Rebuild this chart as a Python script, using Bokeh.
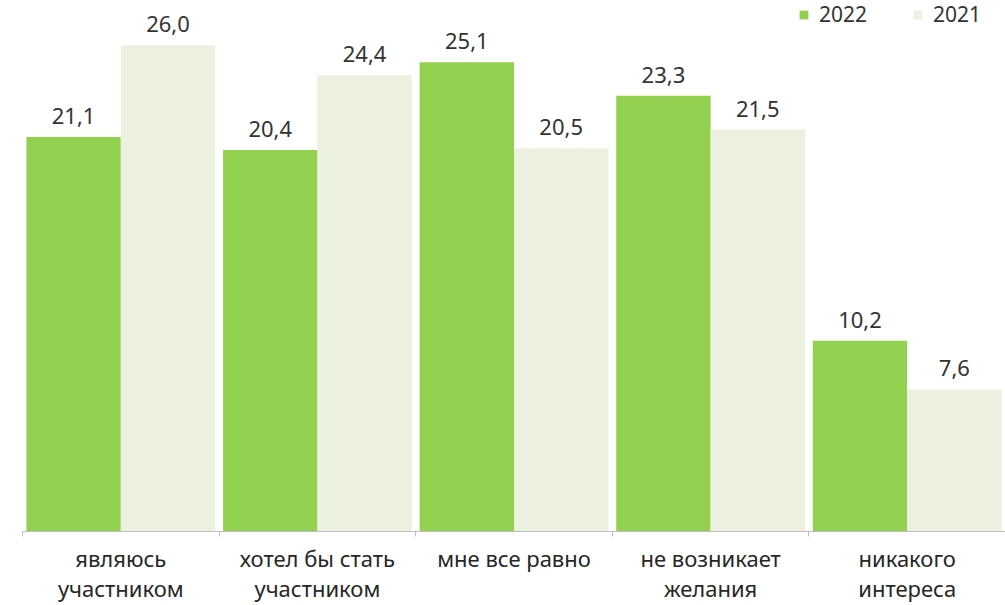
from bokeh.plotting import figure
from bokeh.models import (ColumnDataSource, Range1d, LinearAxis, FixedTicker, LabelSet,
                          Legend, LegendItem)
from bokeh.core.properties import value
from bokeh.transform import dodge
from bokeh.embed import file_html
from bokeh.resources import INLINE

categories = ["являюсь участником", "хотел бы стать участником", "мне все равно",
              "не возникает желания", "никакого интереса"]
tick_labels = ["являюсь\nучастником", "хотел бы стать\nучастником", "мне все равно",
               "не возникает\nжелания", "никакого\nинтереса"]
series_names = ["2022", "2021"]
values_2022 = [21.1, 20.4, 25.1, 23.3, 10.2]
values_2021 = [26.0, 24.4, 20.5, 21.5, 7.6]

GREEN = "#92d050"
LIGHT = "#ebf1de"
TEXT = "#333333"
FONT = "Noto Sans"

n = len(categories)
idx = list(range(n))
src = ColumnDataSource(dict(
    idx=idx,
    v22=values_2022,
    v21=values_2021,
    t22=[f"{v:.1f}".replace(".", ",") for v in values_2022],
    t21=[f"{v:.1f}".replace(".", ",") for v in values_2021],
))

p = figure(x_range=Range1d(-0.5, n - 0.5), y_range=Range1d(0, 28.4),
           width=1005, height=605, output_backend="svg", toolbar_location=None,
           x_axis_location=None, y_axis_location=None,
           min_border_left=22, min_border_right=0, min_border_top=0, min_border_bottom=74)
p.outline_line_color = None
p.grid.visible = False
p.background_fill_color = "white"
p.border_fill_color = "white"

r22 = p.vbar(x=dodge("idx", -0.24), top="v22", width=0.48, source=src,
             fill_color=GREEN, line_color=None)
r21 = p.vbar(x=dodge("idx", 0.24), top="v21", width=0.48, source=src,
             fill_color=LIGHT, line_color=None)

for col, txt, off in (("v22", "t22", -0.24), ("v21", "t21", 0.24)):
    p.add_layout(LabelSet(x=dodge("idx", off), y=col, text=txt, source=src,
                          text_align="center", text_baseline="bottom", y_offset=13,
                          text_font=value(FONT), text_font_size="22px", text_color=TEXT))

# axis: category labels at centres, tick marks at category boundaries
axis = LinearAxis(ticker=FixedTicker(ticks=idx, minor_ticks=[i - 0.5 for i in range(n + 1)]),
                  axis_line_color="#bfbfbf", major_tick_line_color=None,
                  major_tick_in=0, major_tick_out=0,
                  minor_tick_line_color="#bfbfbf", minor_tick_in=0, minor_tick_out=5,
                  major_label_standoff=6, major_label_text_font=FONT,
                  major_label_text_font_size="22px", major_label_text_color="#262626",
                  major_label_text_line_height=1.01,
                  major_label_overrides=dict(zip(idx, tick_labels)))
p.add_layout(axis, "below")

legend = Legend(items=[LegendItem(label=series_names[0], renderers=[r22]),
                       LegendItem(label=series_names[1], renderers=[r21])],
                orientation="horizontal", location="top_right",
                border_line_color=None, background_fill_alpha=0,
                label_text_font=FONT, label_text_font_size="21px", label_text_color=TEXT,
                glyph_width=11, glyph_height=11, label_standoff=10, label_width=72,
                spacing=21, margin=0, padding=8)
p.add_layout(legend)

open("out.html", "w").write(file_html(p, INLINE))
